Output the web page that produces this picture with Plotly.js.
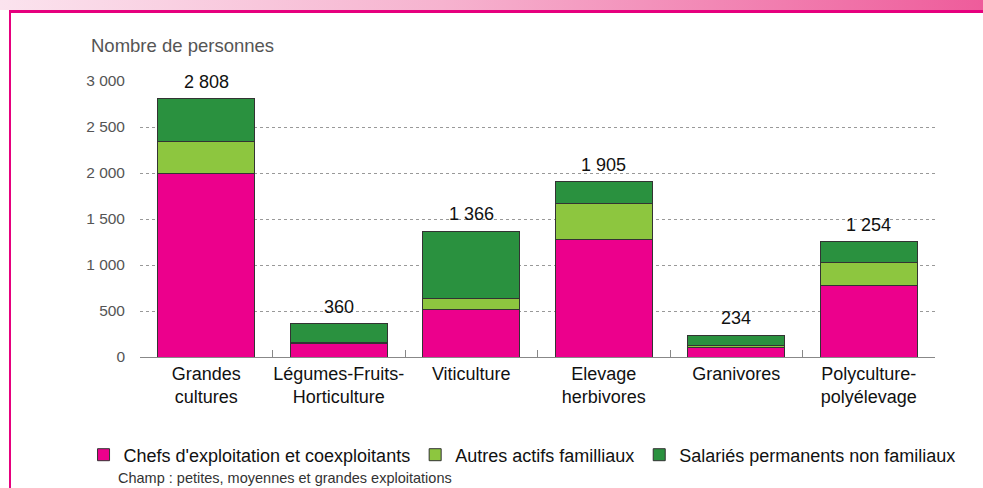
<!DOCTYPE html>
<html>
<head>
<meta charset="utf-8">
<script src="https://cdn.plot.ly/plotly-3.0.1.min.js"></script>
<style>
  html, body { margin:0; padding:0; background:#ffffff; }
  #wrap { position:relative; width:983px; height:488px; overflow:hidden; background:#fff; }
  #band { position:absolute; left:0; top:0; width:983px; height:10px;
          background:linear-gradient(to right, #fbe3ee 0%, #f6b3cf 45%, #ee5c9b 100%); }
  #frame { position:absolute; left:9px; top:10px; width:1200px; height:800px;
           border-top:3px solid #e6007e; border-left:2px solid #e6007e; }
  #chart { position:absolute; left:0; top:0; width:983px; height:488px; }
</style>
</head>
<body>
<div id="wrap">
  <div id="band"></div>
  <div id="frame"></div>
  <div id="chart"></div>
</div>
<script>
// ---- data ----
const categories = ["Grandes<br>cultures", "Légumes-Fruits-<br>Horticulture", "Viticulture",
                    "Elevage<br>herbivores", "Granivores", "Polyculture-<br>polyélevage"];
const seriesNames = ["Chefs d'exploitation et coexploitants", "Autres actifs familliaux",
                     "Salariés permanents non familiaux"];
const chefs    = [1995, 146, 515, 1276, 102, 779];
const autres   = [350, 17, 123, 391, 22, 247];
const salaries = [463, 197, 728, 238, 110, 228];
const totals   = [2808, 360, 1366, 1905, 234, 1254];
const yTicks   = [0, 500, 1000, 1500, 2000, 2500, 3000];
const yTitle   = "Nombre de personnes";
const note     = "Champ : petites, moyennes et grandes exploitations";

// ---- styles ----
const colors = ["#ec008c", "#8dc63f", "#2a913f"];
const sans   = "'Liberation Sans', Arial, sans-serif";

function fmt(n) { return String(n).replace(/\B(?=(\d{3})+(?!\d))/g, " "); }

const seriesVals = [chefs, autres, salaries];
const traces = seriesVals.map((vals, i) => ({
  type: "bar",
  name: seriesNames[i],
  x: categories,
  y: vals,
  marker: { color: colors[i], line: { color: "#333333", width: 1 } },
  hoverinfo: "skip"
}));

const annotations = categories.map((c, i) => ({
  x: c, y: totals[i], xref: "x", yref: "y",
  text: fmt(totals[i]), showarrow: false,
  xanchor: "center", yanchor: "bottom", yshift: 5,
  font: { family: sans, size: 18, color: "#111111" }
}));

const L = 139.5, R = 935, T = 81, B = 357;
const pw = R - L, ph = B - T;
const px = (x) => (x - L) / pw;
const py = (y) => (B - y) / ph;

annotations.push({
  xref: "paper", yref: "paper", x: px(88), y: py(45),
  xanchor: "left", yanchor: "middle", showarrow: false,
  text: yTitle, font: { family: sans, size: 18.5, color: "#555555" }
});
annotations.push({
  xref: "paper", yref: "paper", x: px(115), y: py(478),
  xanchor: "left", yanchor: "middle", showarrow: false,
  text: note, font: { family: sans, size: 14.5, color: "#333333" }
});

const layout = {
  width: 983, height: 488,
  margin: { l: L, r: 983 - R, t: T, b: 488 - B, pad: 0 },
  paper_bgcolor: "rgba(0,0,0,0)",
  plot_bgcolor: "rgba(0,0,0,0)",
  barmode: "stack",
  bargap: 0.27,
  separators: ", ",
  showlegend: true,
  legend: {
    orientation: "h", x: px(83), xanchor: "left", y: py(455), yanchor: "middle",
    font: { family: sans, size: 18, color: "#111111" },
    traceorder: "normal", bgcolor: "rgba(0,0,0,0)"
  },
  xaxis: {
    type: "category",
    showline: true, linecolor: "#888888", linewidth: 1,
    ticks: "inside", tickson: "boundaries", ticklen: 7, tickcolor: "#888888",
    showgrid: false, zeroline: false, tickangle: 0,
    tickfont: { family: sans, size: 18, color: "#111111" }
  },
  yaxis: {
    range: [0, 3000], tickvals: yTicks, tickformat: ",",
    showgrid: true, gridcolor: "#999999", griddash: "dot", gridwidth: 1,
    zeroline: false, showline: false, ticks: "",
    ticklabelstandoff: 14,
    tickfont: { family: sans, size: 15.5, color: "#555555" }
  },
  annotations: annotations
};

Plotly.newPlot("chart", traces, layout, { staticPlot: true, displayModeBar: false });
</script>
</body>
</html>
